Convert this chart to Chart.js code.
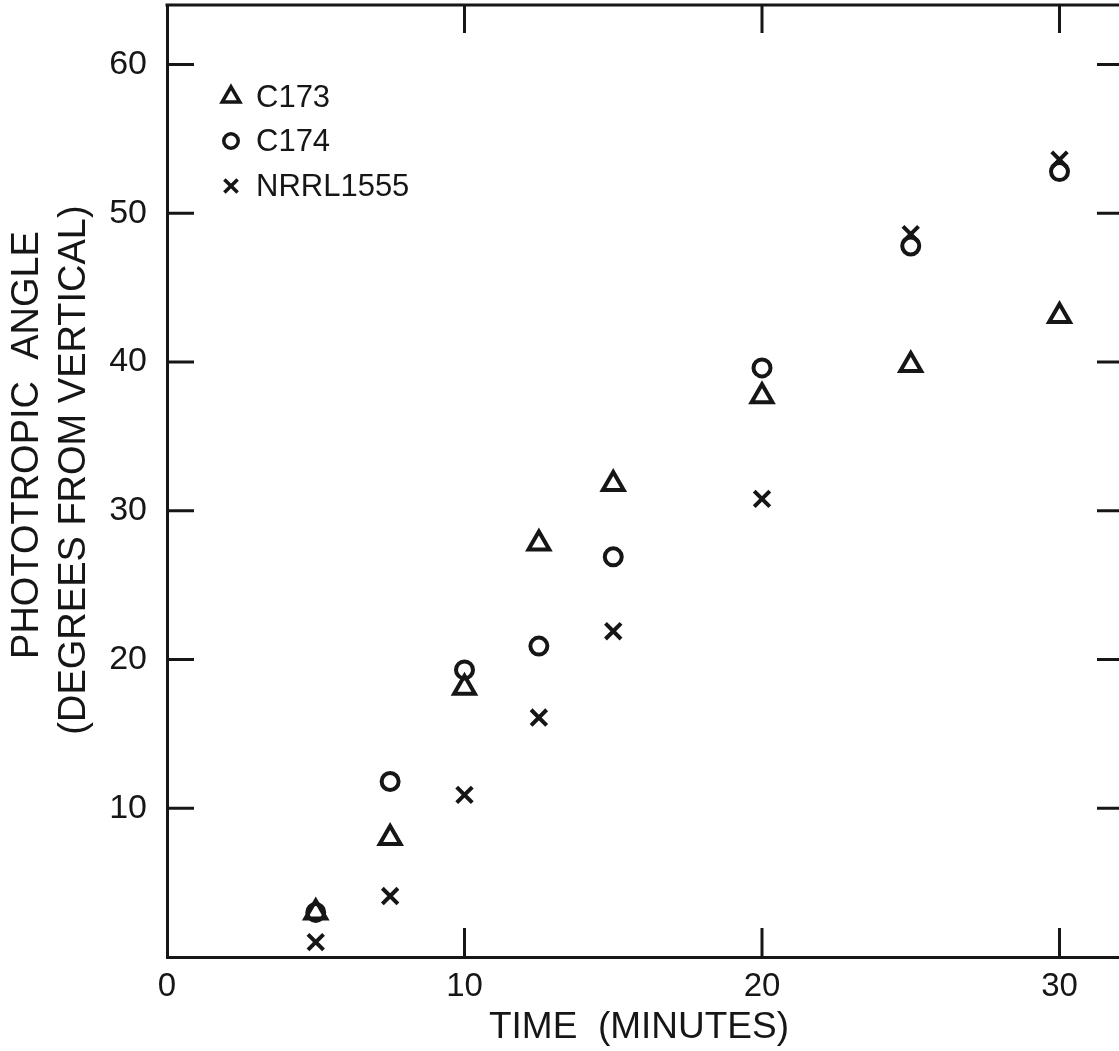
<!DOCTYPE html>
<html>
<head>
<meta charset="utf-8">
<script src="https://cdn.jsdelivr.net/npm/chart.js@4/dist/chart.umd.min.js"></script>
<style>
  html, body { margin: 0; padding: 0; background: #fff; }
</style>
</head>
<body>
<canvas id="angleChart" width="1119" height="1051"></canvas>
<script>
const times = [5, 7.5, 10, 12.5, 15, 20, 25, 30];
const c173 = [3, 8, 18.1, 27.8, 31.8, 37.7, 39.8, 43.1];
const c174 = [3, 11.8, 19.3, 20.9, 26.9, 39.6, 47.8, 52.8];
const nrrl1555 = [1, 4.1, 10.9, 16.1, 21.9, 30.8, 48.6, 53.6];
const xTicks = [0, 10, 20, 30];
const yTicks = [10, 20, 30, 40, 50, 60];

const ink = '#161616';
const fontName = '"Liberation Sans", Arial, sans-serif';

function pts(vals) {
  return vals.map((v, i) => ({ x: times[i], y: v }));
}

const seriesList = [
  { label: 'C173', data: c173, style: 'triangle', r: 12 },
  { label: 'C174', data: c174, style: 'circle', r: 8.5 },
  { label: 'NRRL1555', data: nrrl1555, style: 'crossRot', r: 11 }
];

function noPad(s) {
  s.paddingTop = 0;
  s.paddingBottom = 0;
  s.paddingLeft = 0;
  s.paddingRight = 0;
}

// frame, inward ticks, legend and axis titles
const frameAndText = {
  id: 'frameAndText',
  afterDraw(chart) {
    const { ctx, chartArea: a, scales: { x, y } } = chart;
    ctx.save();
    ctx.strokeStyle = ink;
    ctx.lineWidth = 3;
    ctx.beginPath();
    ctx.moveTo(a.left - 1.5, a.top);
    ctx.lineTo(a.right, a.top);
    xTicks.filter(v => v > 0).forEach(v => {
      const px = x.getPixelForValue(v);
      ctx.moveTo(px, a.bottom);
      ctx.lineTo(px, a.bottom - 29);
      ctx.moveTo(px, a.top);
      ctx.lineTo(px, a.top + 28);
    });
    yTicks.forEach(v => {
      const py = y.getPixelForValue(v);
      ctx.moveTo(a.left, py);
      ctx.lineTo(a.left + 27, py);
      ctx.moveTo(a.right, py);
      ctx.lineTo(a.right - 22, py);
    });
    ctx.stroke();

    // legend
    ctx.fillStyle = ink;
    ctx.font = '31px ' + fontName;
    ctx.textBaseline = 'middle';
    ctx.textAlign = 'left';
    const rowY = [97, 141, 186];
    seriesList.forEach((s, i) => {
      ctx.save();
      ctx.lineWidth = 3.5;
      ctx.fillStyle = 'rgba(0,0,0,0)';
      Chart.helpers.drawPoint(ctx, { pointStyle: s.style, radius: s.r * 0.85, rotation: 0, borderWidth: 3.5 }, 231, rowY[i]);
      ctx.restore();
      ctx.fillText(s.label, 256, rowY[i] + 1);
    });

    // axis titles
    ctx.font = '37px ' + fontName;
    ctx.textAlign = 'center';
    ctx.fillText('TIME  (MINUTES)', 639, 1028);

    ctx.font = '38px ' + fontName;
    ctx.save();
    ctx.translate(28, 445);
    ctx.rotate(-Math.PI / 2);
    ctx.fillText('PHOTOTROPIC  ANGLE', 0, 0);
    ctx.restore();
    ctx.save();
    ctx.translate(75, 470);
    ctx.rotate(-Math.PI / 2);
    ctx.fillText('(DEGREES FROM VERTICAL)', 0, 0);
    ctx.restore();
    ctx.restore();
  }
};

new Chart(document.getElementById('angleChart'), {
  type: 'scatter',
  data: {
    datasets: seriesList.map(s => ({
      label: s.label,
      data: pts(s.data),
      pointStyle: s.style,
      pointRadius: s.r,
      pointBorderWidth: 4,
      borderColor: ink,
      backgroundColor: 'rgba(0,0,0,0)'
    }))
  },
  options: {
    responsive: false,
    devicePixelRatio: 1,
    animation: false,
    events: [],
    layout: { autoPadding: false, padding: { top: 5, left: 0, right: 0, bottom: 0 } },
    plugins: {
      legend: { display: false },
      tooltip: { enabled: false }
    },
    scales: {
      x: {
        type: 'linear',
        min: 0,
        max: 32,
        afterBuildTicks: s => { s.ticks = xTicks.map(v => ({ value: v })); },
        afterFit: s => { s.height = 94; noPad(s); },
        grid: { display: false, drawTicks: false },
        border: { display: true, color: ink, width: 3 },
        ticks: { padding: 10, color: ink, font: { family: fontName, size: 33 }, maxRotation: 0 }
      },
      y: {
        min: 0,
        max: 64,
        afterBuildTicks: s => { s.ticks = yTicks.map(v => ({ value: v })); },
        afterFit: s => { s.width = 167; noPad(s); },
        grid: { display: false, drawTicks: false },
        border: { display: true, color: ink, width: 3 },
        ticks: { padding: 20, color: ink, font: { family: fontName, size: 34 } }
      }
    }
  },
  plugins: [frameAndText]
});
</script>
</body>
</html>
